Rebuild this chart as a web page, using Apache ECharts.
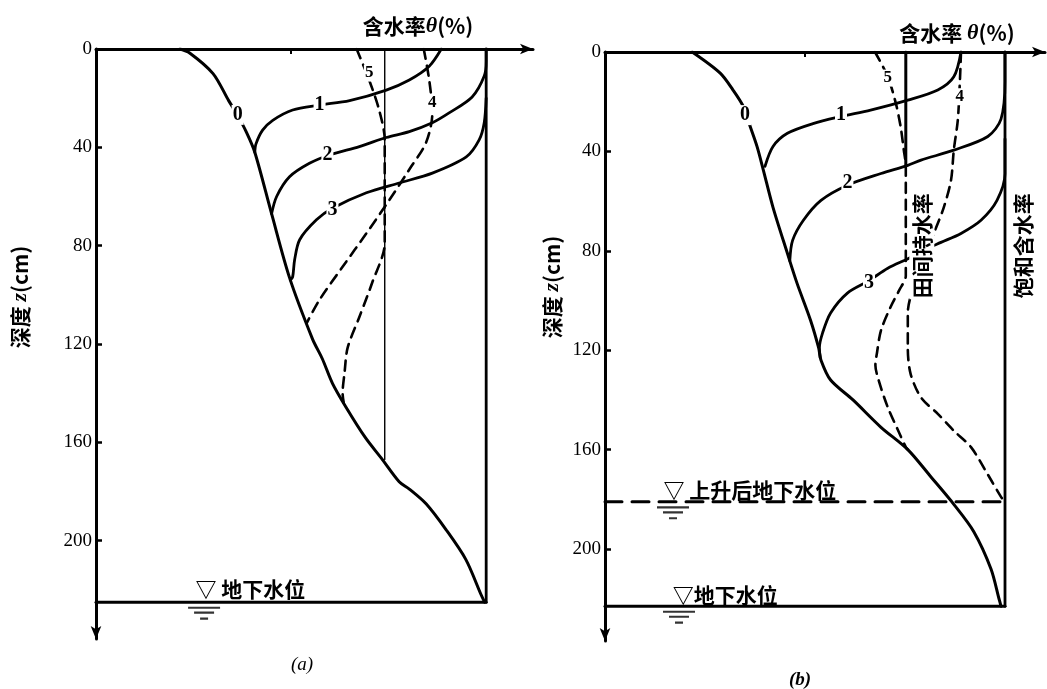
<!DOCTYPE html>
<html><head><meta charset="utf-8">
<script src="https://cdn.jsdelivr.net/npm/echarts@6/dist/echarts.min.js"></script>
<style>html,body{margin:0;padding:0;background:#fff}#c{width:1047px;height:689px}</style>
</head><body><div id="c"></div>
<script>
// ---------- data (x: water content, saturation = 100; y: depth cm) ----------
const depthTicks = [0, 40, 80, 120, 160, 200];
const xTicks = [50];
const SAT = 100;
const FC_A = 74, FC_B = 75.2;
const GW_A = 225, GW_B = 223, GW_RISE_B = 181;

// panel (a)
const a0 = [[21.5,0],[24,1.6],[30,10],[34,21],[36.3,27],[38.6,34],[40.7,42],[45,67],[49.6,93],[55.5,118],[58,126],[60.6,136],[64,145.5],[69,158],[73.4,167],[77.7,176],[80.3,179],[84.6,185],[89.7,195.5],[94.8,207.7],[98.7,222],[99.6,225]];
const a1 = [[88.5,0],[85.4,7],[80.3,12.6],[74.4,16.7],[65,21],[57.3,22.8],[50.4,24.8],[45.3,29],[42.7,33],[41,38.6],[40.7,42]];
const a2 = [[100,0],[100,5],[99.5,11],[96.4,19.5],[90.5,26],[86.2,30],[80.3,33.6],[74.4,36],[67.5,39.7],[60,43],[54.7,46.5],[49.6,52],[46.3,60],[45,67]];
const a3 = [[100,20],[99.5,30],[98.2,37],[94.9,43.9],[86.2,50.5],[77.7,54.5],[69.3,58.5],[60.6,64.8],[56.5,69.5],[52.2,77.6],[50.9,85.8],[50.4,92.7],[49.8,94]];
const a4 = [[84,0],[85.4,12.6],[86.2,26],[84.6,38],[80.3,49],[75.2,61.4],[69.3,75],[63.2,88.6],[57.3,102],[54,111.5]];
const a5 = [[66.8,0],[70,12.6],[72.6,25],[74,37],[74,79],[70.8,95],[67.5,109],[64.5,121.5],[63.7,131.7],[63.2,140],[63.5,144]];
const aFC = [[FC_A,0],[FC_A,167]];
const aLabels = [['0',36.3,26.8],['1',57.3,22.8],['2',59.3,43],['3',60.6,65.5],['4',86.2,22],['5',70,9.8]];

// panel (b)
const b0 = [[21.8,0],[28.8,8.5],[32,15.3],[34.6,22],[36.3,30],[38,38],[39.6,47.6],[42,62.5],[45.6,81],[48,93],[51.4,108],[53.4,119],[54,124],[56.4,132],[62,140],[69,151],[75.7,160],[81.5,171],[87.2,182],[92.2,193],[96.5,208],[98.5,220],[99,223]];
const b1 = [[89,0],[87.2,10],[83.2,15.3],[75.7,19.4],[66.4,23.4],[58.9,26],[52,28.8],[45.6,32.7],[42,38],[40,46]];
const b2 = [[100,0],[100,12],[99,27],[95.7,34],[87.2,39.5],[79,43.5],[75.7,45.6],[69,48.9],[60.6,53.6],[54,59.7],[49.6,67.7],[46.9,75.8],[46.2,84]];
const b3 = [[100,35],[100,49],[98,59.7],[94,67.7],[89,73],[84,76.6],[80,79.5],[76,83],[70.7,87],[66,92],[60.6,97],[56.4,105],[54.4,113],[53.6,119],[53.8,123]];
const b4 = [[89,0],[88.7,12.6],[88.2,27.4],[87.2,39.5],[86.5,51.6],[84.7,62.5],[82.2,73],[79.5,84],[77,95],[75.7,105],[75.7,119],[76.4,129.5],[79,139],[83.2,145.6],[87.2,152.4],[91.5,159],[95.7,170],[99,179],[100,181]];
const b5 = [[67.5,0],[70.7,10],[72.7,20.6],[73.9,30],[74.7,39.5],[75.2,46],[75.2,90],[73.5,96],[71.4,102.6],[69,112],[68,121],[67.6,126],[68.4,132],[70.7,143],[73.2,152],[75.2,159],[75.7,160]];
const bFC = [[FC_B,0],[FC_B,46]];
const bLabels = [['0',35,25.4],['1',59,25.4],['2',60.6,52.8],['3',66,92.7],['4',88.7,18],['5',70.7,10.5]];

// text annotations
const gwTextA = ['▽ 地下水位', 25.4, 219.5];
const gwMarkA = [27.7, GW_A];
const gwTextB = ['▽地下水位', 16.8, 218.5];
const gwMarkB = [18.5, GW_B];
const riseTextB = ['▽ 上升后地下水位', 14.5, 176.3];
const riseMarkB = [17, GW_RISE_B];
const vertTextB = [['田间持水率', 79.2, 78], ['饱和含水率', 104.5, 78]];

// ---------- chart ----------
const BLACK = '#000';
const CJK = '"Noto Sans CJK SC", sans-serif';
const SERIF = '"Liberation Serif", "DejaVu Serif", serif';

function ln(gi, data, o) {
  o = o || {};
  return {type:'line', xAxisIndex:gi, yAxisIndex:gi, data:data, smooth: o.smooth === undefined ? 0.3 : o.smooth,
    showSymbol:false, symbol:'none', silent:true, animation:false, z: o.z || 3,
    lineStyle:{color:BLACK, width:o.w || 2.8, type:o.dash || 'solid', cap:'round', join:'round'}};
}
function labels(gi, arr) {
  return {type:'scatter', xAxisIndex:gi, yAxisIndex:gi, symbolSize:1, silent:true, animation:false, z:10,
    itemStyle:{color:'#fff', opacity:1},
    data: arr.map(l => {
      const small = (l[0]==='4' || l[0]==='5');
      return {value:[l[1], l[2]], label:{show:true, position:'inside', opacity:1, formatter:'{n|' + l[0] + '}',
        backgroundColor:'#fff', padding:[0,1],
        rich:{n:{fontFamily:SERIF, fontWeight:'bold', fontSize: small ? 17 : 20, color:'#000',
          textBorderWidth:0, textShadowBlur:0}}}};
    })};
}
const waterPath = 'path://M0,0H32V2.2H0Z M6,5H26V7.2H6Z M12,11H20V13.2H12Z';
function waterMark(pos) {
  return {value:pos, symbol:waterPath, symbolSize:[32,13], symbolOffset:[0,11], itemStyle:{color:BLACK}};
}
function textItem(t, size, rotate) {
  return {value:[t[1], t[2]], symbolSize:1, itemStyle:{color:'#fff'},
    label:{show:true, position: rotate ? 'inside' : 'right', distance:0, opacity:1, formatter:'{c|' + t[0] + '}',
      rotate: rotate || 0,
      backgroundColor: rotate ? '#fff' : 'transparent', padding: rotate ? [2,1] : 0,
      rich:{c:{fontFamily:CJK, fontWeight:'bold', fontSize:size, color:'#000', textBorderWidth:0, textShadowBlur:0}}}};
}

function yAxis(gi, max) {
  return {type:'value', gridIndex:gi, inverse:true, min:0, max:max, interval:40,
    splitLine:{show:false},
    axisLine:{show:true, onZero:false, symbol:['arrow','none'], symbolSize:[8,13], lineStyle:{color:BLACK, width:3}},
    axisTick:{show:true, inside:true, length:6, customValues:depthTicks, lineStyle:{color:BLACK, width:2.5}},
    axisLabel:{show:true, customValues:depthTicks, margin:4, fontFamily:SERIF, fontSize:19, color:BLACK}};
}
function xAxis(gi, max) {
  return {type:'value', gridIndex:gi, position:'top', min:0, max:max, splitLine:{show:false},
    axisLine:{show:true, onZero:false, symbol:['none','arrow'], symbolSize:[8,13], lineStyle:{color:BLACK, width:3}},
    axisTick:{show:true, inside:true, length:5, customValues:xTicks, lineStyle:{color:BLACK, width:2}},
    axisLabel:{show:false}};
}

const option = {
  backgroundColor:'#fff',
  animation:false,
  grid:[
    {left:96, top:49, width:437, height:590},
    {left:605, top:52, width:440, height:589}
  ],
  xAxis:[xAxis(0,112), xAxis(1,110)],
  yAxis:[yAxis(0,240), yAxis(1,237)],
  graphic:[
    {type:'text', x:418, y:26, style:{text:'含水率{t|θ}(%)', align:'center', verticalAlign:'middle',
      font:'bold 21px ' + CJK, fill:BLACK, rich:{t:{fontFamily:SERIF, fontStyle:'italic', fontWeight:'bold', fontSize:22}}}},
    {type:'text', x:957, y:33, style:{text:'含水率 {t|θ}(%)', align:'center', verticalAlign:'middle',
      font:'bold 21px ' + CJK, fill:BLACK, rich:{t:{fontFamily:SERIF, fontStyle:'italic', fontWeight:'bold', fontSize:22}}}},
    {type:'text', x:20, y:297, rotation:Math.PI/2, style:{text:'深度 {z|z}(cm)', align:'center', verticalAlign:'middle',
      font:'bold 21px ' + CJK, fill:BLACK, rich:{z:{fontFamily:SERIF, fontStyle:'italic', fontWeight:'bold', fontSize:22}}}},
    {type:'text', x:552, y:287, rotation:Math.PI/2, style:{text:'深度 {z|z}(cm)', align:'center', verticalAlign:'middle',
      font:'bold 21px ' + CJK, fill:BLACK, rich:{z:{fontFamily:SERIF, fontStyle:'italic', fontWeight:'bold', fontSize:22}}}},
    {type:'text', x:302, y:665, style:{text:'(a)', align:'center', verticalAlign:'middle', font:'italic 19px ' + SERIF, fill:BLACK}},
    {type:'text', x:800, y:680, style:{text:'(b)', align:'center', verticalAlign:'middle', font:'italic bold 19px ' + SERIF, fill:BLACK}}
  ],
  series:[
    // panel a
    ln(0, [[SAT,0],[SAT,GW_A]], {smooth:false, w:2.8}),
    ln(0, [[0,GW_A],[SAT,GW_A]], {smooth:false, w:3}),
    ln(0, aFC, {smooth:false, w:1.4}),
    ln(0, a0, {w:3}), ln(0, a1), ln(0, a2), ln(0, a3),
    ln(0, a4, {dash:[10,7], w:2.6}), ln(0, a5, {dash:[10,7], w:2.6}),
    labels(0, aLabels),
    {type:'scatter', xAxisIndex:0, yAxisIndex:0, silent:true, animation:false, z:8,
      data:[waterMark(gwMarkA), textItem(gwTextA, 21)]},
    // panel b
    ln(1, [[SAT,0],[SAT,GW_B]], {smooth:false, w:2.8}),
    ln(1, [[0,GW_B],[SAT,GW_B]], {smooth:false, w:3}),
    ln(1, [[0,GW_RISE_B],[SAT,GW_RISE_B]], {smooth:false, w:3, dash:[17,10]}),
    ln(1, bFC, {smooth:false, w:3}),
    ln(1, b0, {w:3}), ln(1, b1), ln(1, b2), ln(1, b3),
    ln(1, b4, {dash:[10,7], w:2.6}), ln(1, b5, {dash:[10,7], w:2.6}),
    labels(1, bLabels),
    {type:'scatter', xAxisIndex:1, yAxisIndex:1, silent:true, animation:false, z:8,
      data:[waterMark(gwMarkB), waterMark(riseMarkB), textItem(gwTextB, 21), textItem(riseTextB, 21),
        textItem(vertTextB[0], 21, 90), textItem(vertTextB[1], 21, 90)]}
  ]
};
const chart = echarts.init(document.getElementById('c'));
chart.setOption(option);
</script></body></html>
